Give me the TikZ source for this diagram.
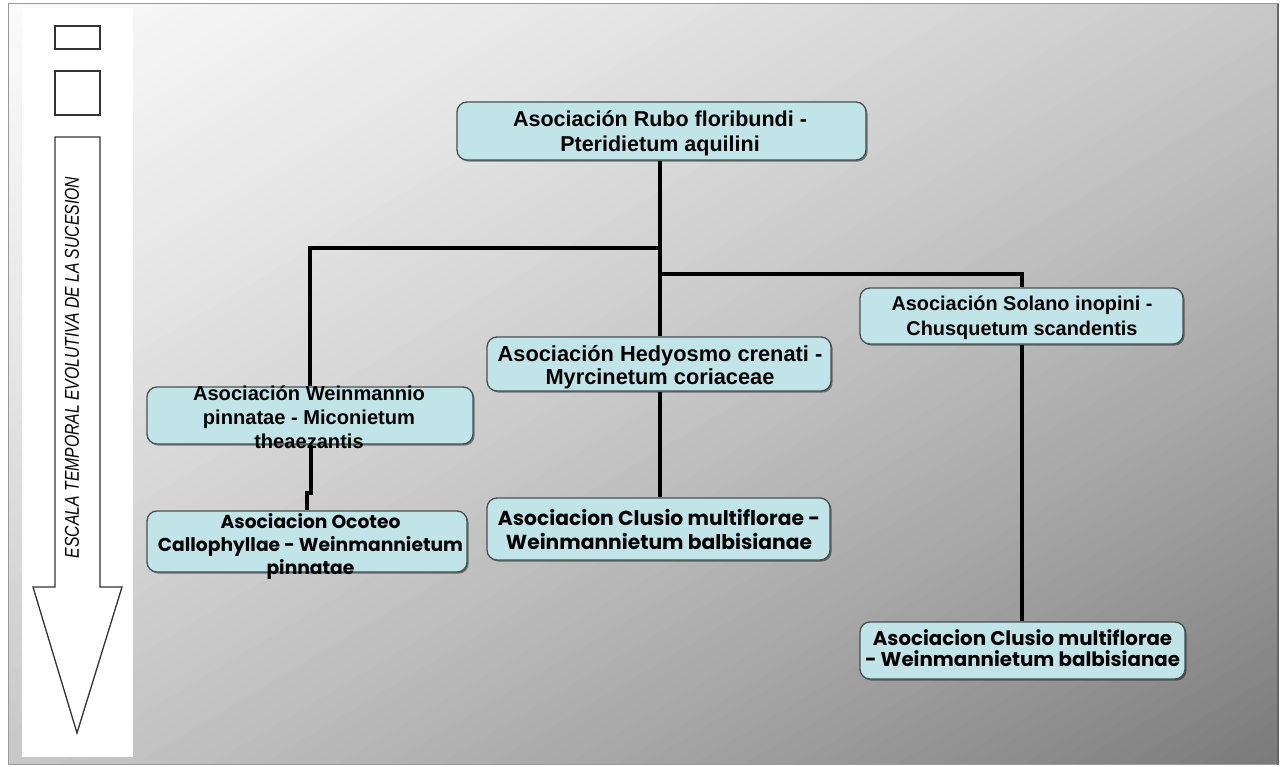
\documentclass[tikz,border=0pt]{standalone}
\usepackage{fontspec}
\usepackage{graphicx}
\usetikzlibrary{shadows}
\newfontfamily\arialf{Liberation Sans}
\newfontfamily\gothf{Poppins}
\definecolor{boxfill}{RGB}{192,228,232}
\definecolor{boxline}{RGB}{70,80,82}
\pgfdeclarelayer{bg}
\pgfdeclarelayer{lines}
\pgfsetlayers{bg,lines,main}
\newcommand\fitlines[2]{\resizebox{#1}{!}{\begin{tabular}{@{}c@{}}#2\end{tabular}}}
\begin{document}
\begin{tikzpicture}[x=1pt,y=-1pt,
  assoc/.style={draw=boxline, fill=boxfill, line width=1.3pt, rounded corners=10pt, inner sep=0pt,
    drop shadow={shadow xshift=1.6pt, shadow yshift=-1.6pt, opacity=0.45, fill=black}},
  lbl/.style={inner sep=0pt, text=black},
  conn/.style={line width=4pt, draw=black},
  outline/.style={draw=black!80, line width=1.3pt, fill=white, inner sep=0pt},
]
\useasboundingbox (0,0) rectangle (1282,767);

% ---------- background ----------
\begin{pgfonlayer}{bg}
  \fill[white] (0,0) rectangle (1282,767);
  \foreach \k in {0,...,99}{
    \pgfmathsetmacro\s{\k/100}
    \pgfmathsetmacro\g{(250-74*(\s+0.005)-54*(\s+0.005)*(\s+0.005))/255}
    \definecolor{bandc}{gray}{\g}
    \ifdim\s pt<0.5pt
      \fill[bandc] ({8+2*\s*1270},4) -- (1278,4) -- (1278,764) -- (8,764) -- (8,{4+2*\s*760}) -- cycle;
    \else
      \fill[bandc] (1278,{4+(2*\s-1)*760}) -- (1278,764) -- ({8+(2*\s-1)*1270},764) -- cycle;
    \fi
  }
  \fill[white] (22,8) rectangle (133,757);
  \draw[black!40, line width=1pt] (8,4) rectangle (1278,764);
  \draw[black!60, line width=2pt] (1278,4) -- (1278,765);
\end{pgfonlayer}

% ---------- time scale ----------
\node[outline, minimum width=45pt, minimum height=23pt] (sqa) at (77.5,37.5) {};
\node[outline, minimum width=45pt, minimum height=44pt] (sqb) at (77.5,93) {};
\draw[outline] (55,137) -- (100,137) -- (100,587) -- (122,587) -- (77,733) -- (33,587) -- (55,587) -- cycle;
\node[lbl, rotate=90] (escala) at (72,367.5)
  {\resizebox{381pt}{14pt}{\arialf\itshape ESCALA TEMPORAL EVOLUTIVA DE LA SUCESION}};

% ---------- boxes ----------
\node[assoc, minimum width=409pt, minimum height=58pt] (rubo) at (661.5,131) {};
\node[assoc, minimum width=344pt, minimum height=54pt] (hedy) at (659,364) {};
\node[assoc, minimum width=323pt, minimum height=56pt] (sol) at (1021.5,316) {};
\node[assoc, minimum width=326pt, minimum height=57pt] (wein) at (310,415.5) {};
\node[assoc, minimum width=320pt, minimum height=61pt] (oco) at (307,541.5) {};
\node[assoc, minimum width=343pt, minimum height=62pt] (clua) at (658.5,529) {};
\node[assoc, minimum width=325pt, minimum height=57pt] (club) at (1022.5,650.5) {};

% ---------- connectors ----------
\begin{pgfonlayer}{lines}
  \coordinate (trunk) at (660,0);
  \coordinate (jw) at (660,248);
  \coordinate (js) at (660,274);
  \coordinate (kw) at (311,493);
  \draw[conn] (rubo.south -| trunk) -- (hedy.north -| trunk);
  \draw[conn] (jw) -| (wein.north);
  \draw[conn] (js) -| (sol.north);
  \draw[conn] (hedy.south -| trunk) -- (clua.north -| trunk);
  \draw[conn] (wein.south -| kw) -- (kw) -| (oco.north);
  \draw[conn] (sol.south) -- (club.north -| sol.south);
\end{pgfonlayer}

% ---------- texts ----------
\node[lbl, font=\arialf\bfseries\fontsize{21.5}{25}\selectfont] (trubo) at (660,134.5)
  {\begin{tabular}{@{}c@{}}Asociación Rubo floribundi -\\Pteridietum aquilini\end{tabular}};
\node[lbl, font=\arialf\bfseries\fontsize{21.8}{23}\selectfont] (thedy) at (660,368)
  {\begin{tabular}{@{}c@{}}Asociación Hedyosmo crenati -\\Myrcinetum coriaceae\end{tabular}};
\node[lbl, font=\arialf\bfseries\fontsize{19.9}{25}\selectfont] (tsol) at (1022,317.5)
  {\begin{tabular}{@{}c@{}}Asociación Solano inopini -\\Chusquetum scandentis\end{tabular}};
\node[lbl, font=\arialf\bfseries\fontsize{20.1}{24}\selectfont] (twein) at (309,420)
  {\begin{tabular}{@{}c@{}}Asociación Weinmannio\\pinnatae - Miconietum\\theaezantis\end{tabular}};
\node[lbl, font=\gothf\bfseries\fontsize{20}{24.5}\selectfont] (toco) at (310.5,547)
  {\fitlines{305pt}{Asociacion Ocoteo\\Callophyllae - Weinmannietum\\pinnatae}};
\node[lbl, font=\gothf\bfseries\fontsize{21}{25}\selectfont] (tclua) at (659,532.5)
  {\fitlines{322pt}{Asociacion Clusio multiflorae -\\Weinmannietum balbisianae}};
\node[lbl, font=\gothf\bfseries\fontsize{21}{20}\selectfont] (tclub) at (1022.5,651)
  {\fitlines{315pt}{Asociacion Clusio multiflorae\\- Weinmannietum balbisianae}};
\end{tikzpicture}
\end{document}
